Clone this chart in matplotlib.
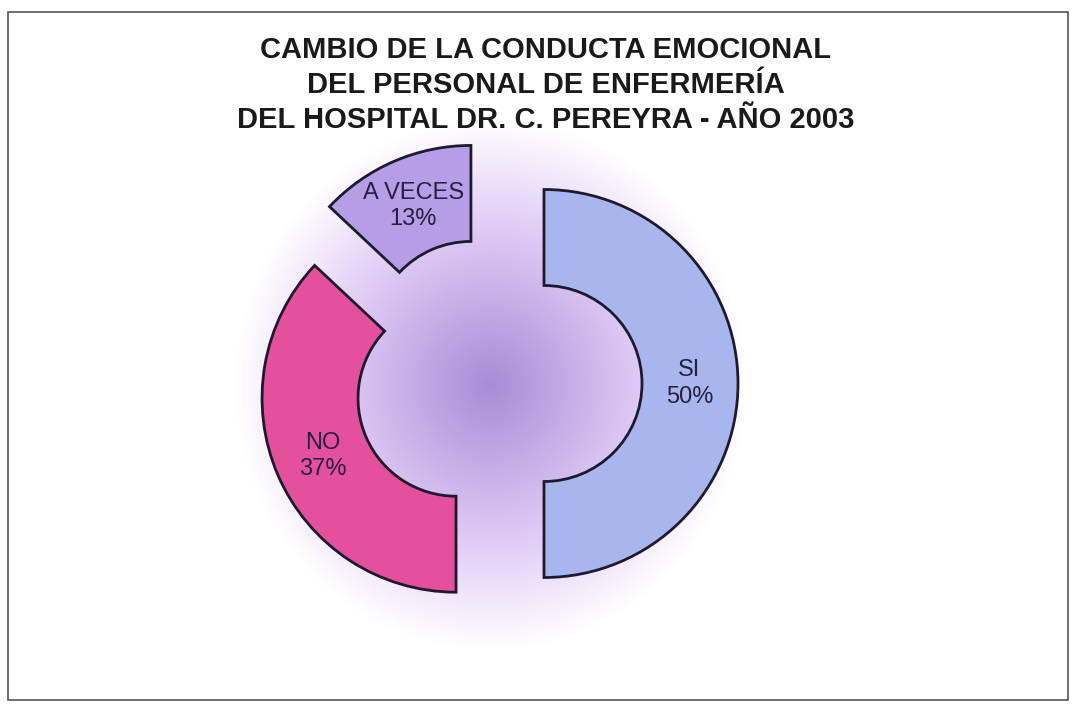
import matplotlib.pyplot as plt
import numpy as np
from matplotlib.patches import Rectangle

# datos
categorias = ["SI", "NO", "A VECES"]
porcentajes = [50, 37, 13]
colores = ["#a9b6ee", "#e4509b", "#b59ee6"]
separacion = [54, 37, 48]

titulo = ("CAMBIO DE LA CONDUCTA EMOCIONAL\n"
          "DEL PERSONAL DE ENFERMERÍA\n"
          "DEL HOSPITAL DR. C. PEREYRA - AÑO 2003")

W, H = 1073, 704

fig = plt.figure(figsize=(W / 100, H / 100), dpi=100)
ax = fig.add_axes([0, 0, 1, 1])

# fondo con degradado radial
yy, xx = np.mgrid[0:H, 0:W]
r = np.sqrt(((xx - 490) / 255.0) ** 2 + ((yy - (H - 385)) / 265.0) ** 2)
r = np.clip(r, 0, 1)
c0 = np.array([0.66, 0.55, 0.84])
c1 = np.array([0.88, 0.80, 0.96])
c2 = np.array([1.0, 1.0, 1.0])
t1 = np.clip(r / 0.6, 0, 1)[..., None]
t2 = np.clip((r - 0.6) / 0.4, 0, 1)[..., None]
img = np.where(r[..., None] < 0.6, c0 * (1 - t1) + c1 * t1, c1 * (1 - t2) + c2 * t2)
ax.imshow(img, extent=(0, W, 0, H), origin="lower", zorder=0)

etiquetas = [f"{c}\n{p}%" for c, p in zip(categorias, porcentajes)]
wedges, textos = ax.pie(
    porcentajes,
    labels=etiquetas,
    colors=colores,
    explode=separacion,
    startangle=90,
    counterclock=False,
    radius=194,
    center=(490, H - 383.5),
    labeldistance=0.75,
    wedgeprops=dict(width=96, edgecolor="#1d1a30", linewidth=2),
    textprops=dict(ha="center", va="center", fontsize=17,
                   family="Liberation Sans", color="#25203f",
                   linespacing=1.25),
    frame=True,
)
for tx in textos:
    tx.set_multialignment("center")
ax.set_xlim(0, W)
ax.set_ylim(0, H)
ax.axis("off")

ax.text(546, H - 85, titulo, ha="center", va="center", fontsize=21,
        fontweight="bold", family="Liberation Sans", color="#1a1a1a",
        linespacing=1.3)

ax.add_patch(Rectangle((8, 4), 1060, 688, fill=False, edgecolor="#555555",
                       linewidth=1.2, zorder=5))

fig.savefig("out.png", dpi=100)
